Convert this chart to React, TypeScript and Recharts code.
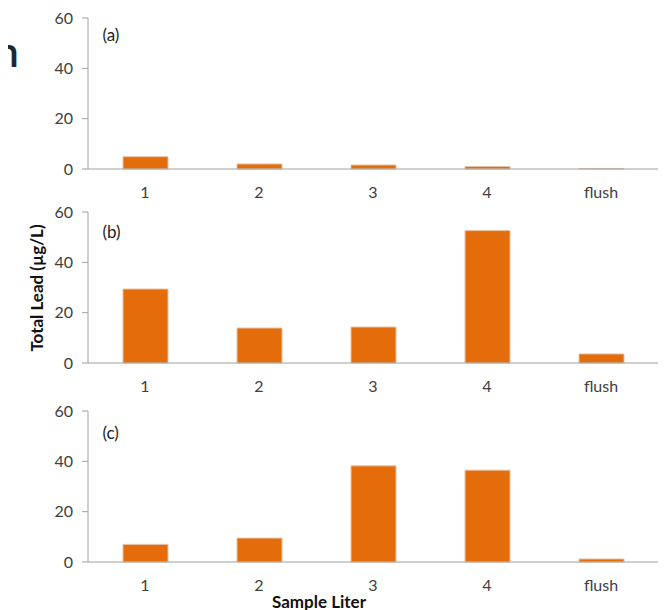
import React from 'react';
import { BarChart, Bar, XAxis, YAxis } from 'recharts';

const categories = ['1', '2', '3', '4', 'flush'];
const panelAValues = [4.9, 2.0, 1.6, 1.0, 0.2];
const panelBValues = [29.4, 13.9, 14.3, 52.6, 3.6];
const panelCValues = [7.0, 9.5, 38.2, 36.5, 1.2];
const yTicks = [0, 20, 40, 60];
const boundaryTicks = [0, 1, 2, 3, 4, 5];
const panelLabels = ['(a)', '(b)', '(c)'];

const FONT = 'Lato, "Open Sans", sans-serif';
const AXIS = '#a0a0a0';
const TEXT = '#404040';
const BAR = '#E46C0A';

const build = (vals: number[]) => categories.map((c, i) => ({ cat: c, v: vals[i] }));

function Panel({ values, top }: { values: number[]; top: number }) {
  const data = build(values);
  return (
    <div style={{ position: 'absolute', left: 0, top }}>
      <BarChart width={650} height={197} data={data} margin={{ top: 10, right: 0, bottom: 0, left: 0 }}>
        <XAxis
          xAxisId="grid"
          type="number"
          domain={[0, 5]}
          ticks={boundaryTicks}
          allowDataOverflow
          tick={false}
          axisLine={false}
          tickLine={{ stroke: AXIS }}
          tickSize={6}
          height={0}
        />
        <XAxis
          xAxisId="cat"
          dataKey="cat"
          type="category"
          interval={0}
          tickLine={false}
          axisLine={{ stroke: AXIS }}
          tickSize={6}
          tickMargin={12}
          height={36}
          tick={{ fill: TEXT, fontSize: 16, fontFamily: FONT }}
        />
        <YAxis
          domain={[0, 60]}
          ticks={yTicks}
          width={80}
          tickSize={6}
          tickMargin={9}
          axisLine={{ stroke: AXIS }}
          tickLine={{ stroke: AXIS }}
          tick={{ fill: TEXT, fontSize: 16, fontFamily: FONT }}
        />
        <Bar xAxisId="cat" dataKey="v" fill={BAR} stroke="#e8c2a2" strokeWidth={1} barSize={45} isAnimationActive={false} />
      </BarChart>
    </div>
  );
}

export default function App() {
  const tops = [0, 194, 393];
  const labelTops = [17, 213.5, 415];
  const vals = [panelAValues, panelBValues, panelCValues];
  return (
    <div style={{ position: 'relative', width: 650, height: 602, fontFamily: FONT }}>
      <div
        style={{
          position: 'absolute',
          left: -14,
          top: 24,
          fontSize: 40,
          lineHeight: '40px',
          fontWeight: 600,
          fontFamily: '"Open Sans", sans-serif',
          color: '#1b2838',
        }}
      >
        n
      </div>
      {vals.map((v, i) => (
        <Panel key={i} values={v} top={tops[i]} />
      ))}
      {panelLabels.map((l, i) => (
        <div
          key={l}
          style={{
            position: 'absolute',
            left: 94.5,
            top: labelTops[i],
            fontSize: 17,
            lineHeight: '20px',
            color: '#222',
            fontFamily: FONT,
          }}
        >
          {l}
        </div>
      ))}
      <div
        style={{
          position: 'absolute',
          left: 28,
          top: 280,
          transform: 'translate(-50%, -50%) rotate(-90deg)',
          whiteSpace: 'nowrap',
          fontSize: 17,
          fontWeight: 'bold',
          color: '#111',
          fontFamily: FONT,
        }}
      >
        Total Lead (µg/L)
      </div>
      <div
        style={{
          position: 'absolute',
          left: 311,
          top: 593,
          transform: 'translate(-50%, -50%)',
          whiteSpace: 'nowrap',
          fontSize: 17,
          fontWeight: 'bold',
          color: '#111',
          fontFamily: FONT,
        }}
      >
        Sample Liter
      </div>
    </div>
  );
}
